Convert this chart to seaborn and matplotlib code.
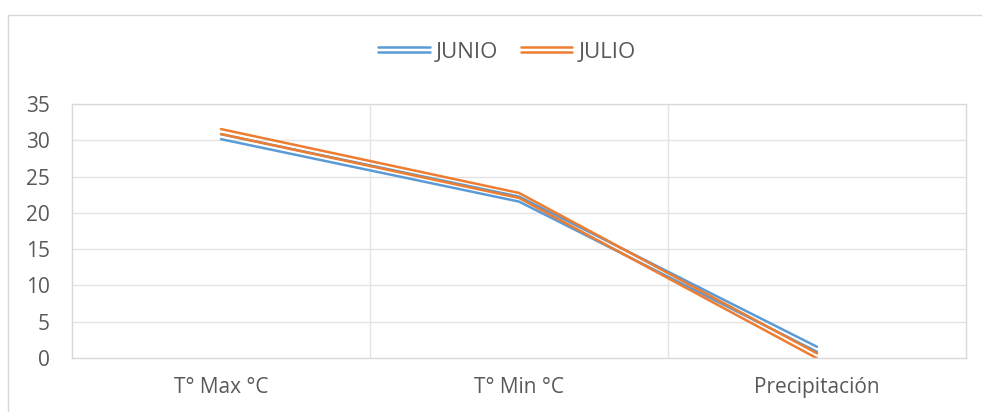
import matplotlib
matplotlib.use("Agg")
import matplotlib.pyplot as plt
import matplotlib.patheffects as pe
from matplotlib.patches import Rectangle
import seaborn as sns
import pandas as pd

categories = ["T° Max °C", "T° Min °C", "Precipitación"]
junio = [30.5, 21.9, 1.2]
julio = [31.2, 22.4, 0.3]
series_names = ["JUNIO", "JULIO"]
y_ticks = [0, 5, 10, 15, 20, 25, 30, 35]

colors = {"JUNIO": "#5B9BD5", "JULIO": "#ED7D31"}
text_color = "#595959"
grid_color = "#E3E3E3"

df = pd.DataFrame({
    "categoria": categories * 2,
    "valor": junio + julio,
    "serie": [series_names[0]] * len(categories) + [series_names[1]] * len(categories),
})

sns.set_theme(style="white")
plt.rcParams["font.family"] = ["Open Sans", "DejaVu Sans"]

fig = plt.figure(figsize=(9.82, 4.12), dpi=100)
ax = fig.add_axes([72 / 982, 1 - 358 / 412, (966 - 72) / 982, (358 - 104) / 412])

# outer chart-area frame
fig.patches.append(Rectangle((8 / 982, -0.05), 1.0, 1 - 15 / 412 + 0.05,
                             transform=fig.transFigure, fill=False,
                             edgecolor="#D9D9D9", linewidth=1.0, zorder=0))

sns.lineplot(data=df, x="categoria", y="valor", hue="serie", palette=colors,
             sort=False, legend=False, ax=ax, linewidth=1.5)

# double compound stroke for each series
for line in ax.lines:
    c = line.get_color()
    line.set_path_effects([
        pe.Stroke(offset=(0, 1.8), linewidth=1.8, foreground=c),
        pe.Stroke(offset=(0, -1.8), linewidth=1.8, foreground=c),
    ])
    line.set_solid_joinstyle("miter")

ax.set_xlim(-0.5, len(categories) - 0.5)
ax.set_ylim(0, 35)
ax.set_yticks(y_ticks)
ax.set_yticklabels([str(v) for v in y_ticks])
ax.set_xlabel("")
ax.set_ylabel("")

for y in y_ticks[1:]:
    ax.axhline(y, color=grid_color, linewidth=1.0, zorder=0)
for x in [0.5, 1.5]:
    ax.axvline(x, color=grid_color, linewidth=1.0, zorder=0)

for s in ax.spines.values():
    s.set_visible(True)
    s.set_color("#D9D9D9")
    s.set_linewidth(1.0)

ax.tick_params(axis="y", length=0, pad=16, labelsize=15, labelcolor=text_color)
ax.tick_params(axis="x", length=0, pad=14, labelsize=15, labelcolor=text_color)

fig.legend(handles=ax.lines[:2], labels=series_names, loc="center",
           bbox_to_anchor=(507 / 982, 1 - 52 / 412), ncol=2, frameon=False,
           fontsize=16, labelcolor=text_color, handlelength=2.3,
           handletextpad=0.27, columnspacing=1.05)

fig.savefig("out.png", dpi=100, facecolor="white")
